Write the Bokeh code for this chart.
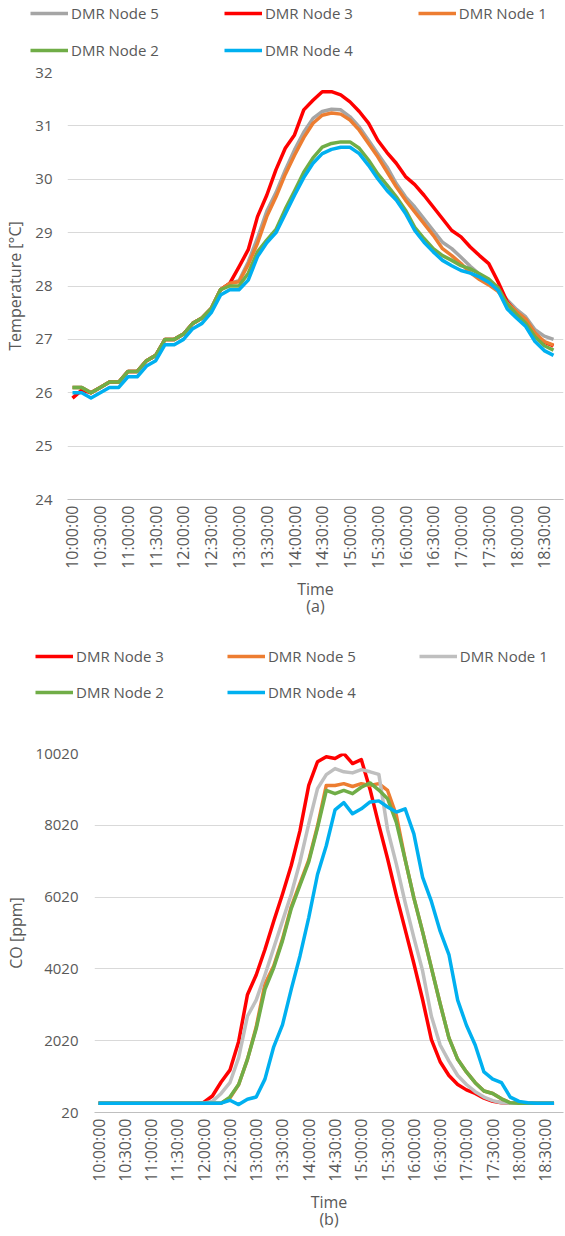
import math
from bokeh.plotting import figure
from bokeh.models import Legend, LegendItem, FixedTicker, Range1d
from bokeh.layouts import column, row
from bokeh.embed import file_html
from bokeh.resources import INLINE

# ---------------- data ----------------
times = ["10:00", "10:10", "10:20", "10:30", "10:40", "10:50", "11:00", "11:10", "11:20", "11:30",
         "11:40", "11:50", "12:00", "12:10", "12:20", "12:30", "12:40", "12:50", "13:00", "13:10",
         "13:20", "13:30", "13:40", "13:50", "14:00", "14:10", "14:20", "14:30", "14:40", "14:50",
         "15:00", "15:10", "15:20", "15:30", "15:40", "15:50", "16:00", "16:10", "16:20", "16:30",
         "16:40", "16:50", "17:00", "17:10", "17:20", "17:30", "17:40", "17:50", "18:00", "18:10",
         "18:20", "18:30", "18:40"]

tick_labels = ["10:00:00", "10:30:00", "11:00:00", "11:30:00", "12:00:00", "12:30:00",
               "13:00:00", "13:30:00", "14:00:00", "14:30:00", "15:00:00", "15:30:00",
               "16:00:00", "16:30:00", "17:00:00", "17:30:00", "18:00:00", "18:30:00"]

# (a) Temperature [°C]
temp_node5 = [26.1, 26.1, 26.0, 26.1, 26.2, 26.2, 26.4, 26.4, 26.6, 26.7, 27.0, 27.0, 27.1, 27.3, 27.4, 27.58, 27.93,
              28.05, 28.1, 28.45, 28.9, 29.4, 29.75, 30.17, 30.55, 30.88, 31.14, 31.27, 31.31, 31.3, 31.17, 30.98,
              30.73, 30.48, 30.23, 29.92, 29.67, 29.48, 29.26, 29.04, 28.82, 28.7, 28.54, 28.37, 28.22, 28.08,
              27.93, 27.74, 27.56, 27.42, 27.18, 27.06, 27.0]
temp_node3 = [25.9, 26.05, 26.0, 26.1, 26.2, 26.2, 26.4, 26.4, 26.6, 26.7, 27.0, 27.0, 27.1, 27.3, 27.4, 27.58, 27.93,
              28.05, 28.36, 28.68, 29.3, 29.7, 30.18, 30.58, 30.83, 31.3, 31.48, 31.64, 31.64, 31.58, 31.45, 31.27,
              31.05, 30.73, 30.5, 30.3, 30.05, 29.9, 29.7, 29.48, 29.26, 29.04, 28.92, 28.73, 28.57, 28.42,
              28.08, 27.7, 27.5, 27.35, 27.1, 26.95, 26.88]
temp_node1 = [26.1, 26.1, 26.0, 26.1, 26.2, 26.2, 26.4, 26.4, 26.6, 26.7, 27.0, 27.0, 27.1, 27.3, 27.4, 27.58, 27.93,
              28.05, 28.08, 28.4, 28.8, 29.3, 29.67, 30.09, 30.45, 30.78, 31.05, 31.2, 31.24, 31.22, 31.11, 30.92,
              30.67, 30.42, 30.14, 29.86, 29.61, 29.39, 29.17, 28.95, 28.7, 28.57, 28.42, 28.25, 28.12, 28.02,
              27.9, 27.68, 27.52, 27.38, 27.12, 26.96, 26.89]
temp_node2 = [26.1, 26.1, 26.0, 26.1, 26.2, 26.2, 26.4, 26.4, 26.6, 26.7, 27.0, 27.0, 27.1, 27.3, 27.4, 27.58, 27.93,
              28.0, 28.0, 28.24, 28.64, 28.86, 29.06, 29.44, 29.78, 30.13, 30.4, 30.6, 30.67, 30.7, 30.7, 30.58,
              30.36, 30.1, 29.89, 29.67, 29.42, 29.1, 28.89, 28.7, 28.57, 28.48, 28.38, 28.32, 28.23, 28.13,
              27.97, 27.66, 27.47, 27.3, 27.05, 26.88, 26.8]
temp_node4 = [26.0, 26.0, 25.9, 26.0, 26.1, 26.1, 26.3, 26.3, 26.5, 26.6, 26.9, 26.9, 27.0, 27.2, 27.3, 27.5, 27.83,
              27.93, 27.93, 28.11, 28.55, 28.81, 29.0, 29.35, 29.7, 30.03, 30.3, 30.48, 30.56, 30.6, 30.6, 30.48,
              30.26, 30.01, 29.79, 29.61, 29.36, 29.04, 28.82, 28.64, 28.48, 28.38, 28.29, 28.24, 28.17, 28.07,
              27.92, 27.57, 27.4, 27.24, 26.96, 26.79, 26.7]
temp_ticks = [24, 25, 26, 27, 28, 29, 30, 31, 32]

# (b) CO [ppm]
co_node3 = [280, 280, 280, 280, 280, 280, 280, 280, 280, 280, 280, 280, 300, 480, 870, 1200, 2000,
            3300, 3850, 4560, 5350, 6100, 6900, 7870, 9130, 9790, 9930, 9880, 10020, 9740, 9850, 9020,
            8030, 7090, 6070, 5120, 4170, 3160, 2050, 1435, 1050, 800, 650, 550, 420, 330,
            290, 280, 280, 280, 280, 280, 280]
co_node5 = [280, 280, 280, 280, 280, 280, 280, 280, 280, 280, 280, 280, 280, 280, 280, 420, 800,
            1500, 2400, 3600, 4100, 4850, 5750, 6400, 7050, 8000, 9130, 9130, 9180, 9100, 9180, 9130,
            9180, 8990, 8300, 7070, 6000, 5050, 4050, 3050, 2100, 1500, 1150, 850, 620, 550,
            400, 290, 280, 280, 280, 280, 280]
co_node1 = [280, 280, 280, 280, 280, 280, 280, 280, 280, 280, 280, 280, 280, 330, 550, 850, 1550,
            2700, 3150, 3850, 4600, 5350, 6100, 7000, 8060, 9040, 9430, 9600, 9510, 9480, 9570, 9510,
            9440, 7900, 6940, 5870, 4890, 3960, 2700, 1900, 1450, 1050, 800, 600, 450, 350,
            290, 280, 280, 280, 280, 280, 280]
co_node2 = [280, 280, 280, 280, 280, 280, 280, 280, 280, 280, 280, 280, 280, 280, 280, 450, 800,
            1500, 2350, 3450, 4050, 4800, 5700, 6350, 7000, 7950, 8990, 8900, 8990, 8900, 9080, 9200,
            9000, 8760, 8100, 7070, 6000, 5050, 4050, 3050, 2100, 1500, 1150, 850, 620, 550,
            400, 290, 280, 280, 280, 280, 280]
co_node4 = [280, 280, 280, 280, 280, 280, 280, 280, 280, 280, 280, 280, 280, 280, 280, 360, 240,
            390, 450, 950, 1850, 2460, 3450, 4380, 5450, 6650, 7450, 8450, 8650, 8340, 8480, 8670,
            8700, 8530, 8390, 8480, 7780, 6570, 5900, 5070, 4420, 3150, 2450, 1900, 1150, 950,
            850, 450, 330, 290, 280, 280, 280]
co_ticks = [20, 2020, 4020, 6020, 8020, 10020]

# ---------------- helpers ----------------
FONT = "Open Sans"
TXT = "#595959"
W = 565
LW = 3.5


def to_min(s):
    h, m = s.split(":")[:2]
    return (int(h) - 10) * 60 + int(m)


x_vals = [to_min(t) for t in times]
tick_pos = [to_min(t) for t in tick_labels]


def legend_fig(series, height, rows, x0, spacing):
    """A strip that only holds the legend (two rows) above a chart.
    Its own copies of the series sit outside its (empty) ranges, so only the legend shows."""
    lf = figure(width=W, height=height, min_border_left=0, min_border_right=0,
                min_border_top=0, min_border_bottom=0,
                x_axis_location=None, y_axis_location=None,
                x_range=Range1d(-2, -1), y_range=Range1d(-2, -1),
                output_backend="svg", toolbar_location=None)
    lf.outline_line_color = None
    lf.xgrid.visible = False
    lf.ygrid.visible = False
    rs = {}
    for name, vals, color in series:
        rs[name] = lf.line(x_vals, vals, line_color=color, line_width=LW)
    for names, vy in rows:
        leg = Legend(items=[LegendItem(label=n, renderers=[rs[n]]) for n in names],
                     location=(x0, vy), orientation="horizontal",
                     glyph_width=38, glyph_height=20, label_height=20, label_standoff=3,
                     spacing=spacing, padding=0, margin=0,
                     border_line_color=None, background_fill_alpha=0,
                     label_text_font=FONT, label_text_font_size="15px", label_text_color=TXT)
        lf.add_layout(leg, "center")
    return lf


def build(series, y_lo, y_hi, y_ticks, y_label, sub, frame_w, frame_h, left, top, bottom,
          x_lo, x_hi, std_y, lab_std):
    p = figure(frame_width=frame_w, frame_height=frame_h, min_border_left=left, min_border_right=2,
               min_border_top=top, min_border_bottom=bottom,
               x_range=Range1d(x_lo, x_hi), y_range=Range1d(y_lo, y_hi),
               output_backend="svg", toolbar_location=None)
    p.outline_line_color = None
    p.xgrid.visible = False
    p.ygrid.grid_line_color = "#D9D9D9"
    p.ygrid.grid_line_width = 1

    p.yaxis.ticker = FixedTicker(ticks=y_ticks)
    p.yaxis.axis_line_color = None
    p.yaxis.major_tick_line_color = None
    p.yaxis.minor_tick_line_color = None
    p.yaxis.major_tick_out = 0
    p.yaxis.major_tick_in = 0
    p.yaxis.minor_tick_out = 0
    p.yaxis.major_label_standoff = std_y
    p.yaxis.major_label_text_font = FONT
    p.yaxis.major_label_text_font_size = "15px"
    p.yaxis.major_label_text_color = TXT
    p.yaxis.axis_label = y_label
    p.yaxis.axis_label_text_font = FONT
    p.yaxis.axis_label_text_font_size = "16px"
    p.yaxis.axis_label_text_font_style = "normal"
    p.yaxis.axis_label_text_color = TXT
    p.yaxis.axis_label_standoff = lab_std

    p.xaxis.ticker = FixedTicker(ticks=tick_pos)
    p.xaxis.major_label_overrides = {pos: lab for pos, lab in zip(tick_pos, tick_labels)}
    p.xaxis.major_label_orientation = math.pi / 2
    p.xaxis.axis_line_color = "#BFBFBF"
    p.xaxis.axis_line_width = 1
    p.xaxis.major_tick_line_color = None
    p.xaxis.minor_tick_line_color = None
    p.xaxis.major_tick_out = 0
    p.xaxis.major_tick_in = 0
    p.xaxis.minor_tick_out = 0
    p.xaxis.major_label_standoff = 6
    p.xaxis.major_label_text_font = FONT
    p.xaxis.major_label_text_font_size = "16px"
    p.xaxis.major_label_text_color = TXT
    p.xaxis.axis_label = "Time\n" + sub
    p.xaxis.axis_label_text_font = FONT
    p.xaxis.axis_label_text_font_size = "16px"
    p.xaxis.axis_label_text_font_style = "normal"
    p.xaxis.axis_label_text_line_height = 0.8
    p.xaxis.axis_label_text_color = TXT
    p.xaxis.axis_label_standoff = 6

    for name, vals, color in series:
        p.line(x_vals, vals, line_color=color, line_width=LW, line_join="round")
    return p


series_a = [("DMR Node 5", temp_node5, "#A5A5A5"),
            ("DMR Node 3", temp_node3, "#FF0000"),
            ("DMR Node 1", temp_node1, "#ED7D31"),
            ("DMR Node 2", temp_node2, "#70AD47"),
            ("DMR Node 4", temp_node4, "#00B0F0")]

series_b = [("DMR Node 3", co_node3, "#FF0000"),
            ("DMR Node 5", co_node5, "#ED7D31"),
            ("DMR Node 1", co_node1, "#BFBFBF"),
            ("DMR Node 2", co_node2, "#70AD47"),
            ("DMR Node 4", co_node4, "#00B0F0")]

leg_a = legend_fig(series_a, 60,
                   [(["DMR Node 5", "DMR Node 3", "DMR Node 1"], 37),
                    (["DMR Node 2", "DMR Node 4"], 0)], 30, 65)
pa = build(series_a, 24, 32, temp_ticks, "Temperature [°C]", "(a)",
           496, 427, 67, 12, 121, -5.4, 530.8, 15, 6)

leg_b = legend_fig(series_b, 90,
                   [(["DMR Node 3", "DMR Node 5", "DMR Node 1"], 44),
                    (["DMR Node 2", "DMR Node 4"], 8)], 35, 63)
pb = build(series_b, 20, 10020, co_ticks, "CO [ppm]", "(b)",
           469, 359, 94, 43, 108, -4.57, 530.8, 16, 6)

layout = column(row(leg_a), row(pa), row(leg_b), row(pb))
open("out.html", "w").write(file_html(layout, INLINE))
